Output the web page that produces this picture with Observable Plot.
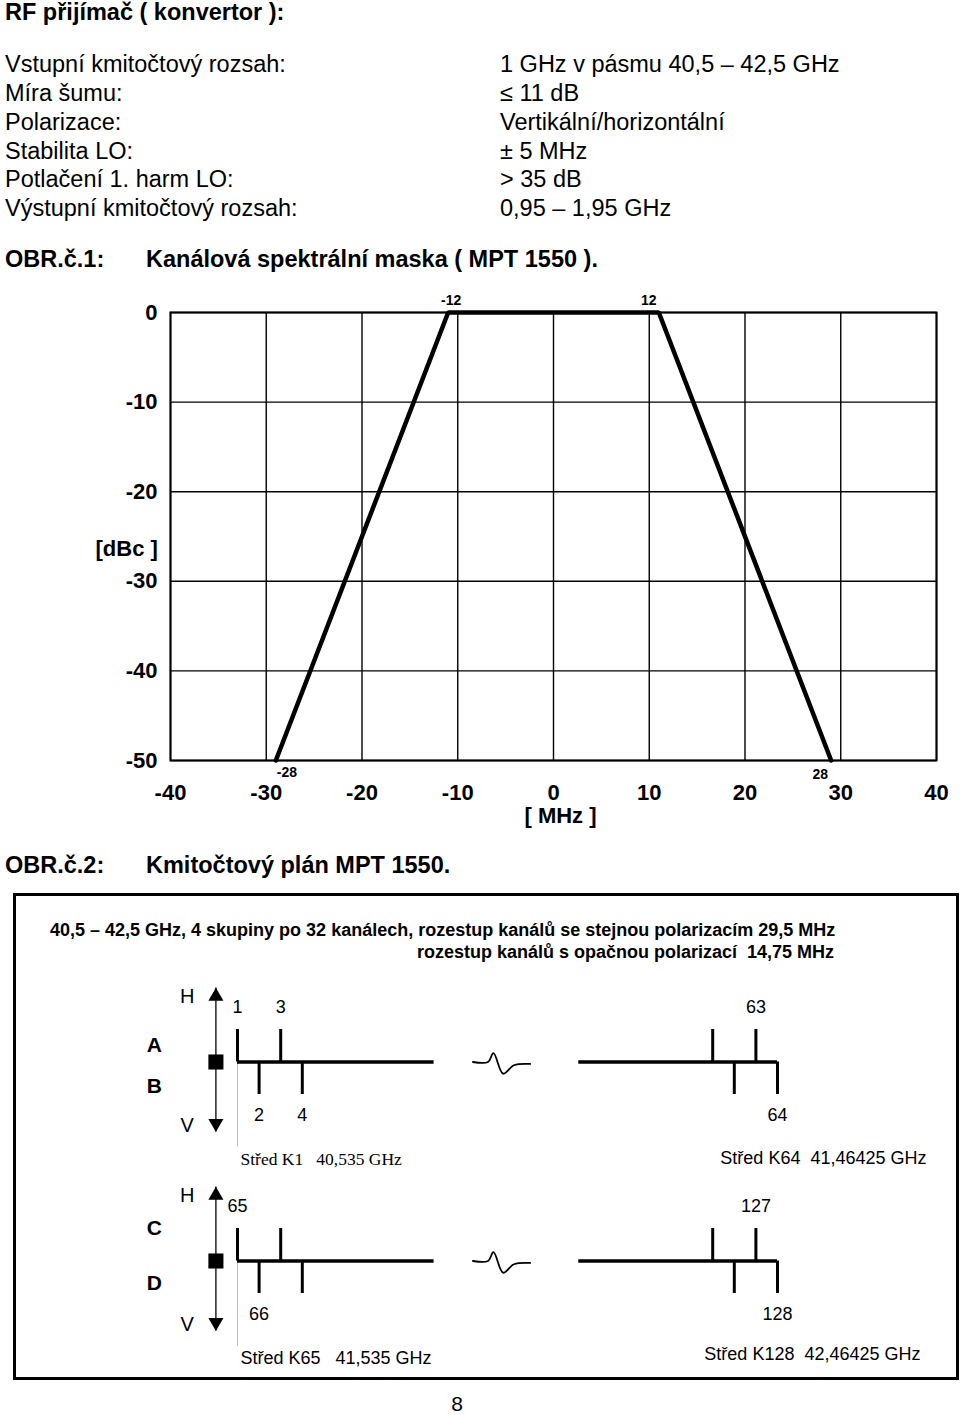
<!DOCTYPE html>
<html><head><meta charset="utf-8">
<script src="https://cdn.jsdelivr.net/npm/d3@7"></script>
<script src="https://cdn.jsdelivr.net/npm/@observablehq/plot@0.6"></script>
<style>
body{margin:0;background:#fff;color:#000;font-family:"Liberation Sans",Arial,sans-serif;}
#page{position:relative;width:960px;height:1415px;overflow:hidden;background:#fff;}
.t{position:absolute;white-space:pre;line-height:1;}
#box{position:absolute;left:13px;top:893px;width:946px;height:487px;box-sizing:border-box;border:3px solid #000;}
</style></head><body><div id="page"><div id="box"></div></div>
<script>
// ---------- data ----------
const pageTitle = "RF přijímač ( konvertor ):";
const specLabels = ["Vstupní kmitočtový rozsah:", "Míra šumu:", "Polarizace:", "Stabilita LO:", "Potlačení 1. harm LO:", "Výstupní kmitočtový rozsah:"];
const specValues = ["1 GHz v pásmu 40,5 – 42,5 GHz", "≤ 11 dB", "Vertikální/horizontální", "± 5 MHz", "> 35 dB", "0,95 – 1,95 GHz"];
const figNumbers = ["OBR.č.1:", "OBR.č.2:"];
const figTitles = ["Kanálová spektrální maska ( MPT 1550 ).", "Kmitočtový plán MPT 1550."];

// spectral mask chart
const xTicks = [-40, -30, -20, -10, 0, 10, 20, 30, 40];
const yTicks = [0, -10, -20, -30, -40, -50];
const xLabel = "[ MHz ]";
const yLabel = "[dBc ]";
const maskFreq = [-29, -11, 11, 29];
const maskLevel = [-50, 0, 0, -50];
const maskLabels = ["-28", "-12", "12", "28"];

// frequency plan
const planHeading = ["40,5 – 42,5 GHz, 4 skupiny po 32 kanálech, rozestup kanálů se stejnou polarizacím 29,5 MHz",
                     "rozestup kanálů s opačnou polarizací  14,75 MHz"];
const groupUpper = ["A", "C"];
const groupLower = ["B", "D"];
const groupUpperLevel = [0.52, 1.0];
const groupLowerLevel = [-0.74, -0.68];
const groupChannels = [[1, 2, 3, 4, 61, 62, 63, 64], [65, 66, 67, 68, 125, 126, 127, 128]];
const groupLabelled = [[1, 2, 3, 4, 63, 64], [65, 66, 127, 128]];
const slotPos = [0, 1, 2, 3, 22, 23, 24, 25];
const groupLeftCentre = ["Střed K1   40,535 GHz", "Střed K65   41,535 GHz"];
const groupRightCentre = ["Střed K64  41,46425 GHz", "Střed K128  42,46425 GHz"];
const baseSegments = [{x1: 0, x2: 9.1}, {x1: 15.8, x2: 25}];
const breakU = [10.9, 11.6, 11.85, 12.3, 12.8, 13.55];
const breakV = [0, 0, 0.27, -0.36, -0.1, -0.06];
const polarNames = ["H", "V"];
const polarLevels = [2.0, -1.95];
const polarAxis = {u: -1, top: 2.28, bottom: -2.15};
const pageNumber = "8";

// ---------- helpers ----------
const SANS = "'Liberation Sans', Arial, sans-serif";
const SERIF = "'Liberation Serif', 'Times New Roman', serif";
const page = document.getElementById("page");
function txt(s, o) {
  const d = document.createElement("div");
  d.className = "t";
  d.textContent = s;
  d.style.fontSize = o.size + "px";
  if (o.bold) d.style.fontWeight = "bold";
  d.style.top = (o.cy - 0.49 * o.size) + "px";
  if (o.left != null) d.style.left = o.left + "px";
  if (o.right != null) d.style.right = (960 - o.right) + "px";
  if (o.cx != null) { d.style.left = o.cx + "px"; d.style.transform = "translateX(-50%)"; }
  page.appendChild(d);
}
function place(svg, left, top) {
  svg.style.position = "absolute";
  svg.style.left = left + "px";
  svg.style.top = top + "px";
  page.appendChild(svg);
}

// ---------- top text ----------
txt(pageTitle, {left: 5, cy: 13, size: 23.5, bold: true});
specLabels.forEach((s, i) => txt(s, {left: 5, cy: 65 + i * 28.7, size: 23.5}));
specValues.forEach((s, i) => txt(s, {left: 500, cy: 65 + i * 28.7, size: 23.5}));
txt(figNumbers[0], {left: 5, cy: 260, size: 23.5, bold: true});
txt(figTitles[0], {left: 146, cy: 260, size: 23.5, bold: true});
txt(figNumbers[1], {left: 5, cy: 866, size: 23.5, bold: true});
txt(figTitles[1], {left: 146, cy: 866, size: 23.5, bold: true});

// ---------- spectral mask chart ----------
const mask = maskFreq.map((f, i) => ({f, db: maskLevel[i], label: maskLabels[i]}));
const vertexOffsets = [[11, 12], [3, -12], [-10, -12], [-11, 14]];
const chart = Plot.plot({
  width: 960, height: 570,
  marginLeft: 170, marginRight: 24, marginTop: 32, marginBottom: 90,
  style: {background: "transparent", fontFamily: SANS, color: "#000", overflow: "visible"},
  x: {domain: [-40, 40]},
  y: {domain: [-50, 0]},
  marks: [
    Plot.ruleX(xTicks, {stroke: "#000", strokeWidth: 1.4}),
    Plot.ruleY(yTicks, {stroke: "#000", strokeWidth: 1.4}),
    Plot.frame({stroke: "#000", strokeWidth: 2}),
    Plot.line(mask, {x: "f", y: "db", stroke: "#000", strokeWidth: 4.5, strokeLinejoin: "miter"}),
    ...mask.map((d, i) => Plot.text([d], {x: "f", y: "db", text: "label", dx: vertexOffsets[i][0], dy: vertexOffsets[i][1],
      fontSize: 14, fontWeight: "bold", fill: "#000"})),
    Plot.axisX(xTicks, {tickSize: 0, tickPadding: 24, fontSize: 22, fontWeight: "bold", tickFormat: d => String(d), label: null, fill: "#000"}),
    Plot.axisY(yTicks, {tickSize: 0, tickPadding: 13, fontSize: 22, fontWeight: "bold", tickFormat: d => String(d), label: null, fill: "#000"}),
    Plot.text([xLabel], {frameAnchor: "bottom", dx: 7, dy: 62, fontSize: 22, fontWeight: "bold", fill: "#000"}),
    Plot.text([yLabel], {frameAnchor: "left", dx: -75, dy: 12, fontSize: 22, fontWeight: "bold", fill: "#000"})
  ]
});
place(chart, 0, 280);

// ---------- frequency plan ----------
txt(planHeading[0], {left: 50, cy: 930, size: 18, bold: true});
txt(planHeading[1], {right: 834, cy: 952, size: 18, bold: true});

function planPanel(g) {
  const chans = groupChannels[g].map((ch, i) => ({ch, u: slotPos[i], pol: ch % 2 ? "H" : "V"}));
  const labelled = chans.filter(d => groupLabelled[g].includes(d.ch));
  const first = chans[0], last = chans[chans.length - 1];
  const squiggle = breakU.map((u, i) => ({u, v: breakV[i]}));
  const polar = polarNames.map((name, i) => ({name, v: polarLevels[i], u: polarAxis.u - 1.33}));
  const letters = [
    {name: groupUpper[g], v: groupUpperLevel[g]},
    {name: groupLower[g], v: groupLowerLevel[g]}
  ];
  return Plot.plot({
    width: 850, height: 215,
    marginLeft: 137, marginRight: 173, marginTop: 57, marginBottom: 93,
    style: {background: "transparent", fontFamily: SANS, color: "#000", overflow: "visible"},
    x: {domain: [0, 25], axis: null},
    y: {domain: [-1, 1], axis: null},
    marks: [
      Plot.ruleX([first], {x: "u", y1: 0, y2: -2.62, stroke: "#bdbdbd", strokeWidth: 1}),
      Plot.ruleY(baseSegments, {y: 0, x1: "x1", x2: "x2", stroke: "#000", strokeWidth: 3.5}),
      Plot.ruleX(chans, {x: "u", y1: 0, y2: d => d.pol === "H" ? 1 : -1, stroke: "#000", strokeWidth: 3}),
      Plot.line(squiggle, {x: "u", y: "v", curve: "catmull-rom", stroke: "#000", strokeWidth: 1.8}),
      Plot.ruleX([polarAxis], {x: "u", y1: "top", y2: "bottom", stroke: "#000", strokeWidth: 1.3}),
      Plot.dot([polarAxis], {x: "u", y: "top", dy: 8.5, symbol: "triangle", r: 5.6, fill: "#000", stroke: null}),
      Plot.dot([polarAxis], {x: "u", y: "bottom", dy: -8.5, symbol: "triangle", rotate: 180, r: 5.6, fill: "#000", stroke: null}),
      Plot.dot([polarAxis], {x: "u", y: 0, symbol: "square", r: 8.5, fill: "#000", stroke: null}),
      Plot.text(polar, {x: "u", y: "v", text: "name", fontSize: 20, fill: "#000"}),
      Plot.text(letters, {x: -3.85, y: "v", text: "name", fontSize: 21, fontWeight: "bold", fill: "#000"}),
      Plot.text(labelled.filter(d => d.pol === "H"), {x: "u", y: 1, text: "ch", dy: -22, fontSize: 18, fill: "#000"}),
      Plot.text(labelled.filter(d => d.pol === "V"), {x: "u", y: -1, text: "ch", dy: 21, fontSize: 18, fill: "#000"}),
      Plot.text([{u: first.u, s: groupLeftCentre[g]}], {x: "u", y: -1, text: "s", dx: 3, dy: 65, textAnchor: "start",
        fontSize: g === 0 ? 17.5 : 18, fontFamily: g === 0 ? SERIF : SANS, fill: "#000"}),
      Plot.text([{u: last.u, s: groupRightCentre[g]}], {x: "u", y: -1, text: "s", dx: g === 0 ? 149 : 143, dy: g === 0 ? 64 : 61, textAnchor: "end",
        fontSize: 18, fill: "#000"})
    ]
  });
}
place(planPanel(0), 100, 972);
place(planPanel(1), 100, 1171);

txt(pageNumber, {cx: 457, cy: 1403, size: 21});
</script>
</body></html>
